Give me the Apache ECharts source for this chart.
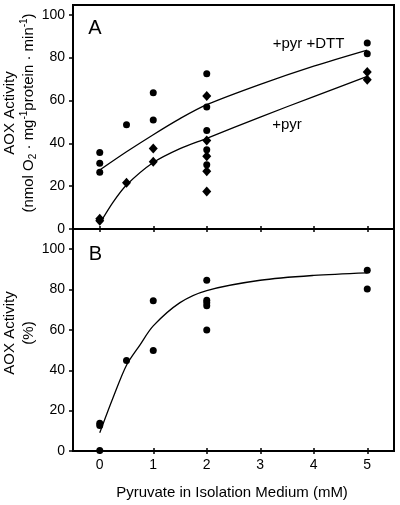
<!DOCTYPE html>
<html><head><meta charset="utf-8">
<script src="https://cdn.jsdelivr.net/npm/echarts@6/dist/echarts.min.js"></script>
<style>html,body{margin:0;padding:0;background:#fff}#c{width:400px;height:505px}</style>
</head><body><div id="c"></div>
<script>
// Panel A: +pyr +DTT (circles)
const dttX = [0, 0, 0, 0.5, 1, 1, 2, 2, 2, 2, 2, 5, 5];
const dttY = [35.7, 30.7, 26.5, 48.6, 63.6, 50.8, 72.4, 56.9, 45.9, 37.0, 30.0, 86.8, 81.8];
// Panel A: +pyr (diamonds)
const pyrX = [0, 0, 0.5, 1, 1, 2, 2, 2, 2, 2, 5, 5];
const pyrY = [3.8, 4.8, 21.6, 37.5, 31.4, 62.1, 41.3, 33.9, 26.9, 17.5, 73.2, 69.6];
// Panel A fitted curves
const dttCurveX = [0, 0.5, 1, 1.5, 2, 3, 4, 5];
const dttCurve = [27.5, 36, 44, 51.5, 58, 67.5, 76, 83.5];
const pyrCurveX = [0, 0.25, 0.5, 1, 1.5, 2, 3, 4, 5];
const pyrCurve = [2.5, 12.5, 20.5, 31, 37.5, 42.3, 52.2, 61.8, 71.2];
// Panel B: AOX activity (%)
const bX = [0, 0, 0, 0.5, 1, 1, 2, 2, 2, 2, 2, 5, 5];
const bY = [13.7, 12.6, 0.2, 44.9, 74.4, 49.8, 84.6, 74.7, 73.4, 72.0, 60.0, 89.6, 80.3];
const bCurveX = [0, 0.25, 0.5, 0.75, 1, 1.5, 2, 3, 4, 5];
const bCurve = [9, 26.5, 42.5, 52.5, 62, 73.5, 79.5, 84.6, 87, 88.3];
// Tick values
const xTicks = [0, 1, 2, 3, 4, 5];
const yTicks = [0, 20, 40, 60, 80, 100];
const labelA = 'A', labelB = 'B';
const xTitle = 'Pyruvate in Isolation Medium (mM)';

const FONT = '"Liberation Sans", Arial, Helvetica, sans-serif';
const pair = (xs, ys) => xs.map((x, i) => [x, ys[i]]);

const chart = echarts.init(document.getElementById('c'), null, {renderer: 'canvas'});

function xAx(grid, labels, inside) {
  return {
    type: 'value', gridIndex: grid, min: -0.5, max: 5.5, position: 'bottom',
    axisLine: {show: !inside, onZero: false, lineStyle: {color: '#000', width: 2}},
    axisTick: {show: true, inside: inside, length: 3, customValues: xTicks, lineStyle: {color: '#000', width: 1.5}},
    axisLabel: {show: labels && !inside, customValues: xTicks, margin: 7, color: '#000', fontSize: 14, fontFamily: FONT},
    splitLine: {show: false}
  };
}
function yAx(grid, max) {
  return {
    type: 'value', gridIndex: grid, min: 0, max: max, position: 'left',
    axisLine: {show: true, onZero: false, lineStyle: {color: '#000', width: 2}},
    axisTick: {show: true, length: 4, customValues: yTicks, lineStyle: {color: '#000', width: 1.5}},
    axisLabel: {customValues: yTicks, margin: 8, color: '#000', fontSize: 14, fontFamily: FONT},
    splitLine: {show: false}
  };
}

const sub = {fontSize: 10, fontFamily: FONT, verticalAlign: 'bottom', lineHeight: 19};
const sup = {fontSize: 10, fontFamily: FONT, verticalAlign: 'top', lineHeight: 19};
const base = {fontSize: 15, fontFamily: FONT, lineHeight: 19};
const curveStyle = {color: '#000', width: 1.3};

chart.setOption({
  animation: false,
  backgroundColor: '#fff',
  grid: [
    {left: 73, top: 5, width: 321, height: 224, show: true, borderColor: '#000', borderWidth: 2},
    {left: 73, top: 229, width: 321, height: 222, show: true, borderColor: '#000', borderWidth: 2}
  ],
  xAxis: [xAx(0, false, false), xAx(0, false, true), xAx(1, true, false), xAx(1, true, true)],
  yAxis: [yAx(0, 104.5), yAx(1, 110)],
  series: [
    {type: 'line', xAxisIndex: 0, yAxisIndex: 0, data: pair(dttCurveX, dttCurve), smooth: 0.3, symbol: 'none', lineStyle: curveStyle, z: 2},
    {type: 'line', xAxisIndex: 0, yAxisIndex: 0, data: pair(pyrCurveX, pyrCurve), smooth: 0.3, symbol: 'none', lineStyle: curveStyle, z: 2},
    {type: 'scatter', xAxisIndex: 0, yAxisIndex: 0, data: pair(dttX, dttY), symbol: 'circle', symbolSize: 7, itemStyle: {color: '#000', opacity: 1}, z: 3},
    {type: 'scatter', xAxisIndex: 0, yAxisIndex: 0, data: pair(pyrX, pyrY), symbol: 'diamond', symbolSize: [9, 10], itemStyle: {color: '#000', opacity: 1}, z: 3},
    {type: 'line', xAxisIndex: 2, yAxisIndex: 1, data: pair(bCurveX, bCurve), smooth: 0.3, symbol: 'none', lineStyle: curveStyle, z: 2},
    {type: 'scatter', xAxisIndex: 2, yAxisIndex: 1, data: pair(bX, bY), symbol: 'circle', symbolSize: 7, itemStyle: {color: '#000', opacity: 1}, z: 3}
  ],
  graphic: [
    {type: 'text', x: 95, y: 28, style: {text: labelA, fontSize: 20, fontFamily: FONT, fill: '#000', align: 'center', verticalAlign: 'middle'}},
    {type: 'text', x: 95.5, y: 254.5, style: {text: labelB, fontSize: 20, fontFamily: FONT, fill: '#000', align: 'center', verticalAlign: 'middle'}},
    {type: 'text', x: 308.5, y: 44, style: {text: '+pyr +DTT', fontSize: 15, fontFamily: FONT, fill: '#000', align: 'center', verticalAlign: 'middle'}},
    {type: 'text', x: 287, y: 125, style: {text: '+pyr', fontSize: 15, fontFamily: FONT, fill: '#000', align: 'center', verticalAlign: 'middle'}},
    {type: 'text', x: 232, y: 493, style: {text: xTitle, fontSize: 15, fontFamily: FONT, fill: '#000', align: 'center', verticalAlign: 'middle'}},
    {type: 'text', x: 19.5, y: 113, rotation: Math.PI / 2, style: {
      text: '{b|AOX Activity}\n{b|(nmol O}{s|2}{b| · mg}{p|-1}{b|protein · min}{p|-1}{b|)}',
      fill: '#000', align: 'center', verticalAlign: 'middle', rich: {b: base, s: sub, p: sup}}},
    {type: 'text', x: 19.5, y: 333, rotation: Math.PI / 2, style: {
      text: '{b|AOX Activity}\n{b|(%)}',
      fill: '#000', align: 'center', verticalAlign: 'middle', rich: {b: base}}}
  ]
});
</script></body></html>
